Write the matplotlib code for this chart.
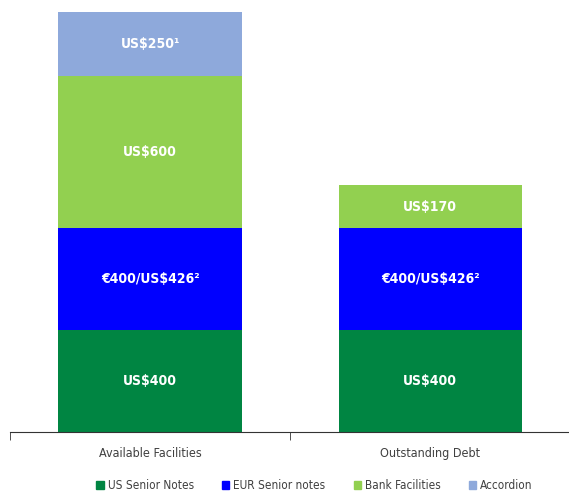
import numpy as np
import matplotlib.pyplot as plt
from matplotlib.patches import Patch

categories = ["Available Facilities", "Outstanding Debt"]
series_names = ["US Senior Notes", "EUR Senior notes", "Bank Facilities", "Accordion"]
us_notes = [400, 400]
eur_notes = [400, 400]
bank = [600, 170]
accordion = [250, 0]
labels = [
    ["US$400", "US$400"],
    ["€400/US$426²", "€400/US$426²"],
    ["US$600", "US$170"],
    ["US$250¹", ""],
]
colors = ["#008542", "#0000FF", "#92D050", "#8EA9DB"]

plt.rcParams['font.family'] = ['DejaVu Sans']
plt.rcParams['font.stretch'] = 'condensed'

fig = plt.figure(figsize=(5.69, 4.91), dpi=100)
ax = fig.add_axes([0.0176, 0.1202, 0.985, 0.88])

x = np.arange(len(categories))
bottom = np.zeros(len(categories))
for vals, labs, col in zip([us_notes, eur_notes, bank, accordion], labels, colors):
    vals = np.array(vals, dtype=float)
    ax.bar(x, vals, width=0.654, bottom=bottom, color=col)
    for xi, v, b, t in zip(x, vals, bottom, labs):
        if v > 0:
            ax.text(xi, b + v / 2, t, ha='center', va='center', color='white',
                    fontsize=10, fontweight='bold', fontstretch='condensed')
    bottom += vals

ax.set_xlim(-0.5, 1.5)
ax.set_ylim(0, 1697)
for s in ['top', 'right', 'left']:
    ax.spines[s].set_visible(False)
ax.spines['bottom'].set_color('#333333')
ax.set_yticks([])
ax.set_xticks(x)
ax.set_xticklabels(categories, fontsize=9, color='#404040')
ax.tick_params(axis='x', which='major', length=0, pad=11)
ax.set_xticks([-0.5, 0.5, 1.5], minor=True)
ax.tick_params(axis='x', which='minor', length=6, color='#333333')

handles = [Patch(color=c) for c in colors]
fig.legend(handles, series_names, loc='lower center', ncol=4, frameon=False,
           fontsize=8.5, handlelength=0.6, handleheight=0.6, handletextpad=0.35,
           columnspacing=2.4, bbox_to_anchor=(0.553, -0.024), labelcolor='#404040')

fig.savefig("out.png")
